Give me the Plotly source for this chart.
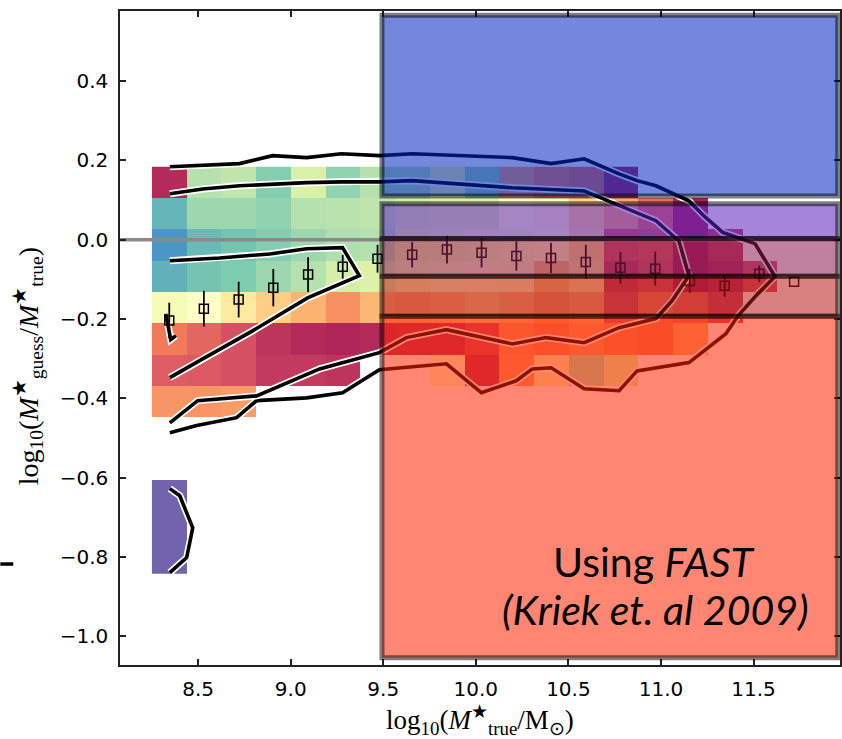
import plotly.graph_objects as go

# ---- binned map: stellar-mass bins (x) and mass-ratio bins (y) ----
mass_centers = [8.344, 8.531, 8.719, 8.906, 9.094, 9.281, 9.469, 9.656, 9.844, 10.031,
                10.219, 10.406, 10.594, 10.781, 10.969, 11.156, 11.344, 11.531, 11.719]
ratio_centers = [0.1445, 0.0655, -0.0135, -0.0925, -0.1715, -0.2505, -0.3295, -0.4085,
                 -0.4875, -0.5665, -0.6455, -0.7245, -0.8035]
N = None
cell_values = [
    [0.02, 0.70, 0.68, 0.78, 0.63, 0.76, 0.70, 0.70, 0.60, 0.74, 0.26, 0.20, 0.18, 0.02, N, N, N, N, N],
    [0.84, 0.74, 0.74, 0.76, 0.70, 0.69, 0.68, 0.64, 0.62, 0.62, 0.50, 0.48, 0.36, 0.27, 0.15, 0.00, N, N, N],
    [0.90, 0.83, 0.81, 0.78, 0.74, 0.71, 0.70, 0.60, 0.58, 0.55, 0.52, 0.50, 0.38, 0.10, 0.12, 0.00, 0.06, N, N],
    [0.85, 0.81, 0.79, 0.74, 0.70, 0.64, 0.62, 0.55, 0.52, 0.48, 0.47, 0.32, 0.40, 0.06, 0.10, 0.00, 0.03, 0.10, N],
    [0.54, 0.50, 0.42, 0.35, 0.29, 0.23, 0.30, 0.28, 0.30, 0.34, 0.30, 0.25, 0.28, 0.10, 0.20, 0.16, 0.08, N, N],
    [0.19, 0.14, 0.09, 0.04, 0.02, 0.01, 0.02, 0.03, 0.03, 0.08, 0.24, 0.21, 0.25, 0.22, 0.20, 0.28, N, N, N],
    [0.12, 0.11, 0.09, 0.05, 0.05, 0.04, N, N, 0.50, 0.03, 0.25, 0.45, 0.72, 0.62, N, N, N, N, N],
    [0.24, 0.24, 0.25, N, N, N, N, N, N, N, N, N, N, N, N, N, N, N, N],
    [N] * 19,
    [N] * 19,
    [1.00] + [N] * 18,
    [1.00] + [N] * 18,
    [1.00] + [N] * 18,
]

# ---- running median of the mass ratio per mass bin ----
median_mass = mass_centers
median_ratio = [-0.204, -0.174, -0.151, -0.121, -0.088, -0.068, -0.048, -0.038, -0.025, -0.033,
                -0.041, -0.046, -0.056, -0.071, -0.073, -0.104, -0.116, -0.086, -0.106]
median_err = [0.045, 0.045, 0.045, 0.047, 0.044, 0.030, 0.035, 0.032, 0.035, 0.037,
              0.037, 0.038, 0.043, 0.040, 0.043, 0.030, 0.028, 0.021, 0.0]

# ---- density contours ----
outer_x = [8.347, 8.724, 8.902, 9.086, 9.274, 9.479, 9.657, 10.197, 10.407, 10.585, 10.774,
           10.871, 10.973, 11.151, 11.232, 11.335, 11.508, 11.616, 11.524, 11.416, 11.351,
           11.151, 10.871, 10.774, 10.585, 10.407, 10.305, 10.218, 10.030, 9.841, 9.479,
           9.280, 9.086, 8.816, 8.708, 8.492, 8.347]
outer_y = [0.184, 0.192, 0.212, 0.207, 0.217, 0.212, 0.217, 0.207, 0.192, 0.204, 0.166,
           0.149, 0.136, 0.098, 0.060, 0.018, -0.010, -0.093, -0.136, -0.192, -0.237,
           -0.310, -0.331, -0.381, -0.376, -0.323, -0.326, -0.356, -0.386, -0.313, -0.328,
           -0.386, -0.399, -0.406, -0.449, -0.469, -0.487]
inner_x = [8.347, 8.525, 8.724, 8.902, 9.086, 9.274, 9.479, 9.657, 10.197, 10.585, 10.774,
           10.973, 11.097, 11.151, 11.060, 10.973, 10.774, 10.585, 10.380, 10.197, 9.841,
           9.625, 9.479, 9.371, 9.156, 8.816, 8.498, 8.347]
inner_y = [0.116, 0.128, 0.136, 0.141, 0.144, 0.146, 0.146, 0.149, 0.131, 0.123, 0.086,
           0.048, -0.003, -0.091, -0.154, -0.199, -0.222, -0.260, -0.247, -0.263, -0.227,
           -0.247, -0.285, -0.298, -0.326, -0.394, -0.406, -0.462]
hole_x = [8.347, 8.616, 8.886, 9.086, 9.280, 9.371, 9.091, 8.794, 8.508, 8.347]
hole_y = [-0.053, -0.046, -0.036, -0.023, -0.020, -0.091, -0.147, -0.230, -0.305, -0.348]
spur_x = [8.325, 8.352, 8.380]
spur_y = [-0.187, -0.252, -0.242]
low_x = [8.347, 8.401, 8.471, 8.438, 8.347]
low_y = [-0.628, -0.646, -0.727, -0.802, -0.840]

XR = [8.078, 11.967]
YR = [-1.073, 0.577]

spectral = ['rgb(158,1,66)', 'rgb(213,62,79)', 'rgb(244,109,67)', 'rgb(253,174,97)',
            'rgb(254,224,139)', 'rgb(255,255,191)', 'rgb(230,245,152)', 'rgb(171,221,164)',
            'rgb(102,194,165)', 'rgb(50,136,189)', 'rgb(94,79,162)']
cscale = [[i / 10, c] for i, c in enumerate(spectral)]

fig = go.Figure()
fig.add_trace(go.Heatmap(x=mass_centers, y=ratio_centers, z=cell_values, colorscale=cscale,
                         zmin=0, zmax=1, showscale=False, opacity=0.88, hoverinfo='skip'))

# zero line
fig.add_trace(go.Scatter(x=XR, y=[0, 0], mode='lines',
                         line=dict(color='#8a8a8a', width=3.5), hoverinfo='skip'))

# contours: black stroke with a thin white halo
for cx, cy in [(outer_x, outer_y), (inner_x, inner_y), (hole_x, hole_y),
               (spur_x, spur_y), (low_x, low_y)]:
    fig.add_trace(go.Scatter(x=cx, y=cy, mode='lines',
                             line=dict(color='white', width=7), hoverinfo='skip'))
    fig.add_trace(go.Scatter(x=cx, y=cy, mode='lines',
                             line=dict(color='black', width=3.6), hoverinfo='skip'))

fig.add_trace(go.Scatter(
    x=median_mass, y=median_ratio, mode='markers',
    marker=dict(symbol='square-open', size=9, color='black', line=dict(width=1.5, color='black')),
    error_y=dict(type='data', array=median_err, color='black', thickness=1.8, width=0),
    hoverinfo='skip'))

# highlighted regions
edge = dict(color='rgba(0,0,0,0.5)', width=5)
shapes = [dict(type='rect', xref='x', yref='y', x0=9.493, x1=11.955, y0=0.110, y1=0.566,
               fillcolor='rgba(0,39,193,0.55)', line=edge, layer='above')]
band_edges = [0.091, 0.003, -0.092, -0.193, -1.055]
band_fills = ['rgba(91,33,191,0.55)', 'rgba(140,24,82,0.55)',
              'rgba(186,24,24,0.55)', 'rgba(255,35,0,0.55)']
for i, fc in enumerate(band_fills):
    shapes.append(dict(type='rect', xref='x', yref='y', x0=9.493, x1=11.955,
                       y0=band_edges[i + 1], y1=band_edges[i],
                       fillcolor=fc, line=edge, layer='above'))
shapes.append(dict(type='line', xref='paper', yref='paper', x0=-0.1662, x1=-0.1482,
                   y0=0.1544, y1=0.1544, line=dict(color='black', width=3.5)))

axis_common = dict(showgrid=False, zeroline=False, showline=True, linecolor='#222',
                   linewidth=1.5, mirror='ticks', ticks='inside', ticklen=6, tickwidth=1.5,
                   tickcolor='#222', tickfont=dict(family='DejaVu Sans', size=20, color='black'))

fig.update_layout(
    width=842, height=739,
    margin=dict(l=120, r=0, t=11, b=74),
    plot_bgcolor='white', paper_bgcolor='white', showlegend=False,
    xaxis=dict(range=XR, tickvals=[8.5, 9.0, 9.5, 10.0, 10.5, 11.0, 11.5],
               ticktext=['8.5', '9.0', '9.5', '10.0', '10.5', '11.0', '11.5'],
               ticklabelstandoff=5, **axis_common),
    yaxis=dict(range=YR, tickvals=[-1.0, -0.8, -0.6, -0.4, -0.2, 0.0, 0.2, 0.4],
               ticktext=['\u22121.0', '\u22120.8', '\u22120.6', '\u22120.4', '\u22120.2',
                         '0.0', '0.2', '0.4'],
               ticklabelstandoff=6, **axis_common),
    shapes=shapes,
    annotations=[
        dict(xref='paper', yref='paper', x=-0.127, y=0.456, xanchor='center', yanchor='middle',
             textangle=-90, showarrow=False,
             text='log<sub>10</sub>(<i>M</i><sup>\u2605</sup><sub>guess</sub>/<i>M</i><sup>\u2605</sup><sub>true</sub>)',
             font=dict(family='Liberation Serif', size=28, color='black')),
        dict(xref='paper', yref='paper', x=0.5, y=-0.084, xanchor='center', yanchor='middle',
             showarrow=False,
             text='log<sub>10</sub>(<i>M</i><sup>\u2605</sup><sub>true</sub>/M<sub>\u2299</sub>)',
             font=dict(family='Liberation Serif', size=27, color='black')),
        dict(xref='x', yref='y', x=10.963, y=-0.812, showarrow=False,
             text='Using <i>FAST</i>', font=dict(family='Lato', size=41, color='black')),
        dict(xref='x', yref='y', x=10.968, y=-0.932, showarrow=False,
             text='<i>(Kriek et. al 2009)</i>', font=dict(family='Lato', size=41, color='black')),
    ],
)

fig.write_html('out.html')
